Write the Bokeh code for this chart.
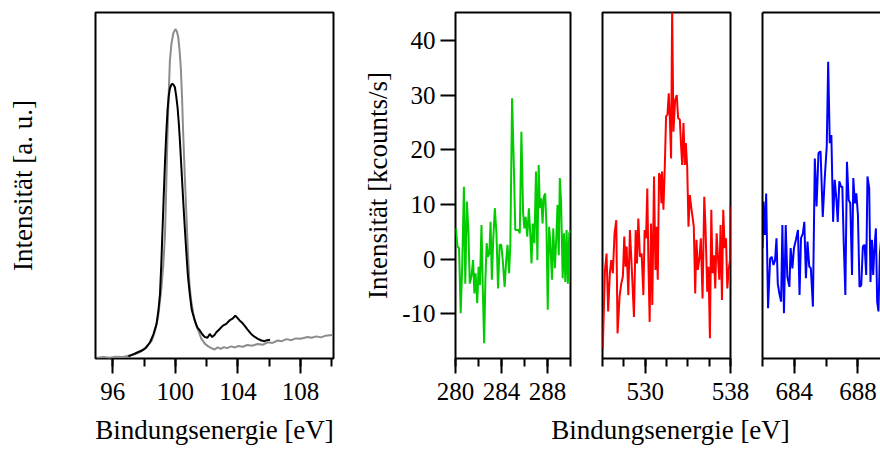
from bokeh.plotting import figure
from bokeh.layouts import row, column
from bokeh.models import Range1d, FixedTicker, Label, LinearAxis
from bokeh.embed import file_html
from bokeh.resources import INLINE

# ---------------- data ----------------
# Si 2p (left panel), arbitrary units
si_gray_energy = [95.0, 95.4, 95.8, 96.2, 96.6, 97.0, 97.4, 97.8, 98.2, 98.5, 98.7, 98.9, 99.1, 99.23,
                  99.34, 99.42, 99.5, 99.58, 99.65, 99.75, 99.87, 100.0, 100.1, 100.18, 100.27, 100.35,
                  100.43, 100.5, 100.6, 100.71, 100.8, 100.9, 101.0, 101.14, 101.3, 101.46, 101.65,
                  101.88, 102.1, 102.3, 102.5, 102.7, 102.9, 103.1, 103.3, 103.57, 103.8, 104.0, 104.3,
                  104.6, 104.9, 105.27, 105.6, 105.9, 106.2, 106.54, 106.8, 107.1, 107.4, 107.7, 108.0,
                  108.44, 108.7, 109.0, 109.3, 109.6, 110.0]
si_gray = [0.002, 0.004, 0.002, 0.005, 0.004, 0.008, 0.012, 0.020, 0.035, 0.052, 0.080, 0.12, 0.20, 0.27,
           0.36, 0.50, 0.65, 0.77, 0.86, 0.91, 0.94, 0.952, 0.945, 0.93, 0.89, 0.84,
           0.75, 0.65, 0.53, 0.41, 0.31, 0.216, 0.17, 0.13, 0.10, 0.081, 0.058,
           0.043, 0.035, 0.030, 0.026, 0.032, 0.028, 0.033, 0.030, 0.035, 0.032, 0.036, 0.034,
           0.039, 0.037, 0.042, 0.040, 0.047, 0.045, 0.052, 0.050, 0.056, 0.053, 0.058, 0.057,
           0.062, 0.060, 0.064, 0.061, 0.066, 0.068]

si_black_energy = [97.0, 97.3, 97.6, 97.86, 98.1, 98.38, 98.6, 98.8, 98.92, 99.02, 99.1, 99.17, 99.25,
                   99.34, 99.42, 99.5, 99.58, 99.65, 99.73, 99.81, 99.9, 99.97, 100.05, 100.14, 100.22,
                   100.29, 100.4, 100.5, 100.6, 100.71, 100.8, 100.92, 101.05, 101.24, 101.4, 101.56,
                   101.72, 101.88, 102.05, 102.2, 102.35, 102.5, 102.62, 102.8, 103.04, 103.25, 103.46,
                   103.65, 103.83, 103.95, 104.1, 104.25, 104.42, 104.6, 104.84, 105.05, 105.27, 105.5,
                   105.69, 105.85, 106.05]
si_black = [0.006, 0.012, 0.018, 0.023, 0.030, 0.047, 0.070, 0.10, 0.14, 0.187, 0.27, 0.36, 0.46,
            0.57, 0.65, 0.717, 0.76, 0.78, 0.79, 0.794, 0.79, 0.784, 0.76, 0.726, 0.68,
            0.63, 0.54, 0.457, 0.38, 0.30, 0.24, 0.187, 0.14, 0.11, 0.09, 0.081,
            0.07, 0.062, 0.060, 0.071, 0.062, 0.068, 0.076, 0.084, 0.095, 0.10, 0.11,
            0.115, 0.124, 0.118, 0.11, 0.104, 0.095, 0.084, 0.071, 0.063, 0.057, 0.052,
            0.05, 0.053, 0.054]

# C 1s (green), kcounts/s
c1s_energy = [280.03, 280.17, 280.31, 280.45, 280.59, 280.73, 280.85, 280.99, 281.13, 281.24, 281.38,
              281.53, 281.64, 281.75, 281.89, 282.01, 282.12, 282.26, 282.37, 282.49, 282.6, 282.71,
              282.82, 282.94, 283.05, 283.16, 283.28, 283.42, 283.56, 283.7, 283.84, 283.98, 284.12,
              284.27, 284.41, 284.52, 284.66, 284.77, 284.92, 285.06, 285.2, 285.34, 285.48, 285.59,
              285.73, 285.88, 285.99, 286.1, 286.24, 286.38, 286.5, 286.61, 286.72, 286.86, 287.0,
              287.12, 287.23, 287.34, 287.46, 287.57, 287.68, 287.8, 287.91, 288.02, 288.14, 288.25,
              288.39, 288.5, 288.64, 288.76, 288.87, 288.98, 289.07, 289.18, 289.32, 289.43, 289.55,
              289.66, 289.77, 289.89, 290.0]
c1s_counts = [5.6, 2.3, 2.0, -9.9, -0.8, 13.2, -4.5, 10.5, 4.7, -4.5, -3.2,
              -0.2, -6.3, -2.6, -8.1, -1.4, -4.8, 6.2, -5.1, -15.4, -3.8, 2.9,
              0.4, 1.0, 6.8, -3.8, 3.5, 9.3, 4.7, -5.4, 2.6, 2.6, -0.5,
              -5.1, -0.2, 2.6, -2.6, 2.9, 29.4, 18.1, 5.3, 5.3, 5.3, 4.7,
              23.3, 8.4, 5.6, 7.7, 4.1, 9.3, 4.7, -0.8, 6.5, 2.9, 16.0,
              -0.2, 17.2, 9.3, 11.1, 6.5, 11.4, 12.0, 5.9, -9.3, 5.9, 2.9,
              -3.8, 5.6, -1.7, 3.5, 9.9, 0.7, 14.8, 10.5, -3.5, 4.7, -4.2,
              5.3, -4.5, 4.7, 5.3]

# O 1s (red)
o1s_energy = [526.03, 526.22, 526.38, 526.53, 526.69, 526.82, 526.97, 527.13, 527.29, 527.41, 527.6,
              527.76, 527.91, 528.04, 528.16, 528.26, 528.42, 528.57, 528.73, 528.95, 529.11, 529.23,
              529.36, 529.51, 529.67, 529.83, 529.95, 530.08, 530.2, 530.3, 530.42, 530.55, 530.67,
              530.83, 530.96, 531.05, 531.18, 531.3, 531.43, 531.52, 531.58, 531.71, 531.84, 531.96,
              532.09, 532.21, 532.31, 532.43, 532.53, 532.65, 532.81, 532.96, 533.09, 533.25, 533.37,
              533.47, 533.59, 533.72, 533.81, 533.94, 534.06, 534.19, 534.31, 534.44, 534.56, 534.69,
              534.81, 534.94, 535.1, 535.22, 535.38, 535.54, 535.66, 535.82, 535.94, 536.07, 536.2,
              536.32, 536.45, 536.57, 536.7, 536.82, 536.95, 537.07, 537.2, 537.32, 537.45, 537.58,
              537.7, 537.83, 537.95, 538.0]
o1s_counts = [-16.4, -2.3, 1.0, -9.6, -2.6, -0.2, -2.6, 4.7, 7.1, -13.6, -6.9,
              -4.5, -3.2, 4.1, -1.4, 2.3, -6.6, 5.3, -1.1, -10.6, 5.3, -0.8,
              7.4, 0.4, 1.0, -6.6, 5.3, 3.8, 12.9, -0.2, -11.5, 6.5, -8.4,
              15.1, -2.0, 5.9, -3.8, 15.7, 15.1, 10.2, 16.0, 9.0, 16.9, 26.1,
              26.4, 30.3, 25.8, 18.4, 46.0, 23.3, 29.1, 30.0, 25.8, 25.5, 20.6,
              17.2, 24.9, 17.2, 21.2, 16.9, 5.9, 11.7, 9.6, 7.7, 5.9, -6.3,
              3.5, -2.0, 0.4, 3.8, -7.2, 11.4, 5.6, -6.0, -1.4, -14.5, 9.0,
              -2.6, 0.7, -5.4, 4.7, 0.4, -3.8, 6.2, -7.5, 9.0, 2.0, 3.8,
              -5.4, -2.0, -0.2, 9.6]

# F 1s (blue)
f1s_energy = [682.0, 682.06, 682.15, 682.23, 682.35, 682.48, 682.58, 682.69, 682.79, 682.88, 682.96,
              683.06, 683.17, 683.25, 683.35, 683.46, 683.56, 683.69, 683.77, 683.88, 683.98, 684.1,
              684.23, 684.33, 684.42, 684.54, 684.63, 684.73, 684.83, 684.94, 685.04, 685.17, 685.29,
              685.4, 685.52, 685.65, 685.79, 685.92, 686.04, 686.13, 686.23, 686.33, 686.44, 686.54,
              686.65, 686.73, 686.83, 686.94, 687.02, 687.1, 687.21, 687.31, 687.42, 687.52, 687.63,
              687.71, 687.81, 687.9, 688.0, 688.1, 688.21, 688.31, 688.42, 688.52, 688.6, 688.71,
              688.79, 688.88, 688.96, 689.04, 689.13, 689.21, 689.29, 689.38, 689.5, 689.6, 689.75,
              689.9]
f1s_counts = [2.0, 10.5, 4.4, 12.0, -9.0, 0.1, 0.4, -1.1, -0.2, 3.8, -4.5,
              -6.3, -7.8, 6.2, -9.9, 6.2, -3.2, -5.1, 2.0, -1.7, 2.0, 3.5,
              5.3, -6.6, 3.8, 4.7, 6.8, -3.5, 3.2, -1.4, -1.7, -8.7, 18.4,
              9.6, 19.4, 19.7, 7.7, 15.1, 20.6, 36.1, 21.2, 22.7, 6.8, 14.5,
              10.8, 6.8, 14.2, 13.2, 13.2, 3.8, -6.6, 17.8, 10.8, 10.2, -2.9,
              14.8, 10.2, 12.0, 8.1, -5.1, -4.8, 2.3, 2.6, -2.9, 15.1, 12.9,
              -4.2, 3.5, -2.9, 2.0, 5.6, -7.8, -9.6, 1.0, 5.0, -3.0, 8.0,
              -2.0]

si_major = [96, 100, 104, 108]
si_minor = [96, 98, 100, 102, 104, 106, 108, 110]
c_major = [280, 284, 288]
c_minor = [280, 282, 284, 286, 288, 290]
o_major = [530, 538]
o_minor = [526, 528, 530, 532, 534, 536, 538]
f_major = [684, 688]
f_minor = [682, 684, 686, 688, 690]
y_ticks = [-10, 0, 10, 20, 30, 40]

x_label = "Bindungsenergie [eV]"
y_label_left = "Intensität [a. u.]"
y_label_right = "Intensität [kcounts/s]"

FONT = "Liberation Serif"
TICK_SIZE = "25px"
LABEL_SIZE = "27px"
Y_RANGE = (-18.2, 45.1)
TOP_H = 410
LAB_H = 450 - TOP_H


def base_fig(width, xr, yr, left, right, y_axis=True):
    p = figure(width=width, height=TOP_H, x_range=Range1d(*xr), y_range=Range1d(*yr),
               output_backend="svg", toolbar_location=None,
               min_border_left=left, min_border_right=right, min_border_top=12,
               min_border_bottom=TOP_H - 358,
               y_axis_location="left" if y_axis else None)
    p.grid.visible = False
    p.outline_line_color = "black"
    p.outline_line_width = 2
    p.background_fill_color = "white"
    p.border_fill_color = "white"
    return p


def style_x(p, major, minor):
    ax = p.xaxis[0]
    ax.ticker = FixedTicker(ticks=major, minor_ticks=minor)
    ax.major_label_overrides = {v: str(v) for v in major}
    ax.major_tick_in = 0
    ax.major_tick_out = 15
    ax.minor_tick_in = 0
    ax.minor_tick_out = 8
    ax.major_tick_line_width = 2
    ax.minor_tick_line_width = 2
    ax.major_tick_line_color = "black"
    ax.minor_tick_line_color = "black"
    ax.axis_line_color = None
    ax.major_label_text_font = FONT
    ax.major_label_text_font_size = TICK_SIZE
    ax.major_label_text_color = "black"
    ax.major_label_standoff = 9


def blank_axis(ax):
    ax.ticker = FixedTicker(ticks=[])
    ax.major_tick_out = 0
    ax.major_tick_in = 0
    ax.minor_tick_out = 0
    ax.minor_tick_in = 0
    ax.major_label_standoff = 0
    ax.major_tick_line_color = None
    ax.minor_tick_line_color = None


# ---------- left panel: Si 2p ----------
p1 = base_fig(360, (94.9, 110.1), (0, 1), 95, 27)
p1.line(si_gray_energy, si_gray, line_color="#8c8c8c", line_width=2)
p1.line(si_black_energy, si_black, line_color="black", line_width=2)
style_x(p1, si_major, si_minor)
ya = p1.yaxis[0]
blank_axis(ya)
ya.axis_line_color = None
ya.axis_label = y_label_left
ya.axis_label_text_font = FONT
ya.axis_label_text_font_size = LABEL_SIZE
ya.axis_label_text_font_style = "normal"
ya.axis_label_text_color = "black"
ya.axis_label_standoff = 58

# ---------- C 1s ----------
p2 = base_fig(226, (280, 290), Y_RANGE, 92, 16)
p2.line(c1s_energy, c1s_counts, line_color="#00cc00", line_width=2)
style_x(p2, c_major, c_minor)
yb = p2.yaxis[0]
yb.ticker = FixedTicker(ticks=y_ticks, minor_ticks=[])
yb.major_label_overrides = {v: str(v) for v in y_ticks}
yb.major_tick_in = 0
yb.major_tick_out = 15
yb.minor_tick_out = 0
yb.minor_tick_in = 0
yb.major_tick_line_width = 2
yb.major_tick_line_color = "black"
yb.axis_line_color = None
yb.major_label_text_font = FONT
yb.major_label_text_font_size = TICK_SIZE
yb.major_label_text_color = "black"
yb.major_label_standoff = 5
yb.axis_label = y_label_right
yb.axis_label_text_font = FONT
yb.axis_label_text_font_size = LABEL_SIZE
yb.axis_label_text_font_style = "normal"
yb.axis_label_text_color = "black"
yb.axis_label_standoff = 6

# ---------- O 1s ----------
p3 = base_fig(164, (526, 538), Y_RANGE, 16, 20, y_axis=False)
p3.line(o1s_energy, o1s_counts, line_color="#ff0000", line_width=2)
style_x(p3, o_major, o_minor)

# ---------- F 1s (cut at the window edge) ----------
p4 = base_fig(130, (682, 689.42), Y_RANGE, 12, 0)
p4.outline_line_color = None
p4.line(f1s_energy, f1s_counts, line_color="#0000ff", line_width=2)
style_x(p4, f_major, f_minor)
p4.xaxis[0].axis_line_color = "black"
p4.xaxis[0].axis_line_width = 2
yl = p4.yaxis[0]
blank_axis(yl)
yl.axis_line_color = "black"
yl.axis_line_width = 2
top = LinearAxis()
blank_axis(top)
top.axis_line_color = "black"
top.axis_line_width = 2
p4.add_layout(top, "above")

# ---------- shared x-axis labels ----------
plab = figure(width=880, height=LAB_H, x_range=Range1d(0, 880), y_range=Range1d(0, LAB_H),
              output_backend="svg", toolbar_location=None, min_border=0,
              x_axis_location=None, y_axis_location=None)
plab.grid.visible = False
plab.outline_line_color = None
plab.background_fill_color = "white"
plab.border_fill_color = "white"
for cx in (214, 670):
    plab.add_layout(Label(x=cx, y=LAB_H - 4, text=x_label, text_align="center", text_baseline="top",
                          text_font=FONT, text_font_size=LABEL_SIZE, text_color="black"))

layout = column(row(p1, p2, p3, p4), plab)
open("out.html", "w").write(file_html(layout, INLINE))
